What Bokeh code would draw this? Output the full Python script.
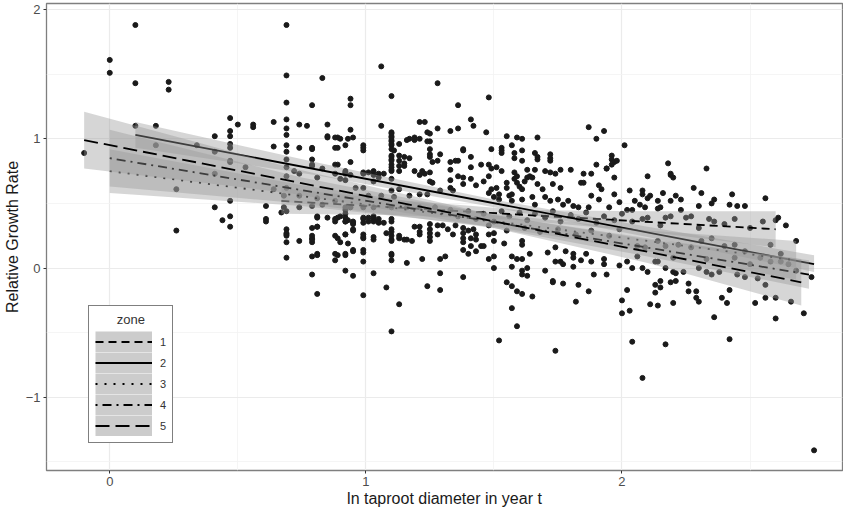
from bokeh.plotting import figure
from bokeh.models import Range1d, FixedTicker, Legend, LegendItem, ColumnDataSource
from bokeh.embed import file_html
from bokeh.resources import INLINE

# ---------------- data ----------------
# observed points: (ln taproot diameter in year t, relative growth rate)
pts_left = [(-0.10,0.89),(0.00,1.61),(0.00,1.51),(0.10,1.88),(0.10,1.43),(0.10,1.10),(0.18,1.10),(0.23,1.44),(0.23,1.38),
    (0.26,0.61),(0.26,0.29),(0.18,0.95),(0.41,1.02),(0.41,0.73),(0.41,0.47),(0.44,0.37),(0.47,1.16),(0.47,1.06),(0.47,1.02),
    (0.47,0.96),(0.47,0.93),(0.47,0.83),(0.47,0.52),(0.47,0.40),(0.47,0.32),(0.50,1.11),(0.56,1.11),(0.56,1.09),(0.53,0.78),
    (0.61,0.48),(0.61,0.38),(0.61,0.36),(0.64,1.13),(0.64,0.94),(0.67,0.43),(0.69,1.88),(0.69,1.49),(0.69,1.28),(0.69,1.15),
    (0.69,1.08),(0.69,1.03),(0.69,0.95),(0.69,0.90),(0.69,0.84),(0.69,0.78),(0.69,0.71),(0.69,0.62),(0.69,0.44),(0.69,0.30),
    (0.69,0.26),(0.69,0.20),(0.69,0.08),(0.74,1.11),(0.74,0.93),(0.74,0.73),(0.74,0.47),(0.74,0.21),(0.77,1.10),(0.79,1.26),
    (0.79,0.93),(0.79,0.84),(0.79,0.79),(0.79,0.48),(0.79,0.31),(0.79,0.23),(0.79,0.20),(0.79,0.09),(0.81,0.40),(0.81,0.32),
    (0.81,0.11),(0.83,1.47),(0.85,1.11),(0.85,1.02),(0.89,1.01),(0.93,1.00),(0.89,0.93),(0.89,0.80),(0.89,0.39),(0.93,0.37),
    (0.89,0.23),(0.89,0.10),(0.93,0.19),(0.92,0.95),(0.92,0.74),(0.92,0.68),(0.92,0.45),(0.92,0.42),(0.92,0.36),(0.92,0.26),
    (0.92,0.10),(0.94,1.31),(0.94,1.26),(0.94,1.07),(0.94,0.82),(0.95,1.01),(0.95,0.35),(0.95,0.29),(0.95,0.13),(0.99,0.95),
    (0.99,0.91),(0.99,0.74),(0.99,0.38),(0.99,0.35),(0.99,0.23),(0.99,0.12),(1.03,0.75),(1.05,0.73),(1.07,0.73),(1.03,0.38),
    (1.05,0.35),(1.07,0.35),(1.03,0.22),(1.06,1.56),(1.10,1.33),(1.10,1.05),(1.10,1.02),(1.10,0.99),(1.10,0.95),(1.10,0.92),
    (1.10,0.87),(1.10,0.84),(1.10,0.80),(1.10,0.76),(1.10,0.28),(1.10,0.22),(1.10,0.10),(1.06,1.10),(1.13,0.96),(1.15,0.86),
    (1.15,0.81),(1.15,0.79),(1.17,0.85),(1.17,1.00),(1.15,0.22),(1.18,0.21),(1.19,1.01),(1.22,0.75),(1.23,0.73),(1.21,0.32),
    (1.23,1.13),(1.25,1.04),(1.25,0.98),(0.41,0.90),(0.34,0.95),(0.47,0.82)]
pts_midleft = [(0.79,0.92),(0.79,0.80),(0.85,1.01),(0.88,1.01),(0.90,1.00),(0.88,0.93),(0.88,0.80),(0.92,0.73),(0.94,0.72),
    (0.99,0.93),(0.99,0.73),(1.01,0.74),(1.03,0.72),(1.05,0.70),(1.10,1.04),(1.10,1.01),(1.10,0.98),(1.10,0.96),(1.10,0.86),
    (1.10,0.83),(1.10,0.78),(1.10,0.75),(1.10,0.69),(1.11,0.91),(1.13,0.87),(1.13,0.83),(1.13,0.79),(1.13,0.75),(1.16,0.99),
    (1.19,0.99),(1.21,1.00),(1.21,1.13),(1.24,1.05),(1.24,0.98),(1.19,0.75),(1.21,0.72),(1.25,0.92),(1.25,0.88),(1.25,0.86),
    (1.26,0.82),(1.28,0.83),(1.29,0.88),(1.25,0.74),(1.25,0.67),(1.26,0.66),(1.28,1.43),(1.28,1.08),
    (0.81,0.39),(0.85,0.39),(0.88,0.38),(0.90,0.40),(0.92,0.39),(0.99,0.39),(1.01,0.39),(1.03,0.40),(1.05,0.38),(1.10,0.38),
    (0.81,0.70),(0.83,0.77),(0.88,0.73),(0.90,0.69),(0.92,0.75),(0.96,0.62),(0.99,0.62),(1.01,0.56),(1.03,0.67),(1.06,0.56),
    (1.10,0.60),(1.11,0.55),(1.13,0.61),(1.17,0.56),(1.21,0.57),(1.24,0.57),(1.29,0.60),(0.68,0.56),(0.74,0.56),(0.72,0.75),
    (0.68,0.47),(0.64,0.61),(0.92,0.47),(0.94,0.47),(0.99,0.47),(1.03,0.47),(1.10,0.47),(1.16,0.47),(1.21,0.47),(1.27,0.47),
    (0.81,0.54),(0.83,0.49),(0.88,0.52)]
pts_midlow = [(0.69,0.27),(0.69,0.25),(0.81,0.32),(0.79,0.25),(0.79,0.22),(0.81,0.10),(0.79,-0.05),(0.81,-0.20),(0.88,0.25),
    (0.92,0.26),(0.90,0.20),(0.88,0.11),(0.88,0.06),(0.92,0.11),(0.95,0.14),(0.92,-0.02),(0.95,-0.06),(0.95,0.34),(0.95,0.30),
    (0.99,0.26),(0.99,0.24),(1.03,0.24),(0.99,0.14),(0.99,0.05),(1.03,-0.04),(0.99,-0.21),(1.08,0.27),(1.10,0.30),(1.10,0.25),
    (1.10,0.21),(1.10,0.11),(1.10,0.06),(1.08,-0.15),(1.13,-0.28),(1.10,-0.49),(1.13,0.25),(1.13,0.23),(1.16,0.22),(1.16,0.04),
    (1.19,0.32),(1.21,0.28),(1.21,0.26),(1.22,0.07),(1.24,-0.14),(1.25,0.34),(1.25,0.30),(1.25,0.27),(1.25,0.24),(1.25,0.21),
    (1.28,0.33),(1.28,0.26),(1.30,0.33),(1.29,0.07),(1.31,0.09),(1.29,-0.04),(1.29,-0.17),(0.88,0.36),(0.92,0.36),(0.95,0.36),
    (1.01,0.36),(1.03,0.36),(1.05,0.36),(1.10,0.36)]
pts_center = [(1.36,1.26),(1.48,1.32),(1.33,1.06),(1.36,1.08),(1.41,1.15),(1.42,1.10),(1.47,1.05),(1.55,1.02),(1.59,1.01),
    (1.61,1.00),(1.67,1.01),(1.57,0.95),(1.49,0.92),(1.53,0.93),(1.53,0.91),(1.53,0.89),(1.58,0.89),(1.58,0.85),(1.61,0.91),
    (1.61,0.83),(1.66,0.89),(1.67,0.86),(1.67,0.84),(1.72,0.88),(1.72,0.85),(1.72,0.83),(1.87,1.09),(1.93,1.06),(1.90,1.00),
    (1.96,0.87),(1.96,0.84),(1.97,0.82),(1.98,0.83),(1.94,0.77),(2.01,0.95),(1.33,0.82),(1.35,0.83),(1.36,0.83),(1.33,0.76),
    (1.38,0.92),(1.38,0.91),(1.41,0.86),(1.41,0.78),(1.45,0.80),(1.48,0.80),(1.49,0.77),(1.51,0.78),(1.33,0.68),(1.36,0.71),
    (1.38,0.70),(1.38,0.65),(1.41,0.69),(1.43,0.64),(1.46,0.67),(1.48,0.71),(1.53,0.75),(1.33,0.62),(1.34,0.60),
    (1.49,0.61),(1.48,0.58),(1.51,0.62),(1.52,0.57),(1.55,0.66),(1.55,0.62),(1.57,0.57),(1.58,0.74),(1.58,0.69),(1.59,0.71),
    (1.59,0.66),(1.60,0.63),(1.61,0.61),(1.62,0.67),(1.63,0.70),(1.63,0.76),(1.64,0.71),(1.65,0.70),(1.66,0.76),(1.67,0.65),
    (1.69,0.61),(1.70,0.75),(1.72,0.74),(1.73,0.65),(1.74,0.73),(1.76,0.62),(1.76,0.76),(1.80,0.76),(1.84,0.66),(1.85,0.66),
    (1.85,0.73),(1.88,0.73),(1.88,0.56),(1.90,0.80),(1.91,0.64),(1.92,0.61),(1.94,0.77),(1.96,0.80),(1.97,0.70),
    (1.50,0.55),(1.52,0.53),(1.56,0.56),(1.57,0.52),(1.61,0.53),(1.65,0.55),(1.66,0.49),(1.70,0.55),(1.72,0.52),(1.75,0.53),
    (1.77,0.49),(1.79,0.52),(1.81,0.48),(1.83,0.47),(1.87,0.47),(1.91,0.53),(1.95,0.47),(1.97,0.57),(1.99,0.51)]
pts_centerlow = [(1.32,0.30),(1.34,0.26),(1.38,0.31),(1.38,0.27),(1.38,0.23),(1.38,0.20),(1.38,0.14),(1.40,0.29),(1.41,0.23),
    (1.41,0.17),(1.40,0.11),(1.43,0.26),(1.43,0.22),(1.43,0.13),(1.45,0.17),(1.46,0.17),(1.48,0.26),(1.48,0.07),(1.50,0.27),
    (1.50,0.21),(1.50,0.09),(1.50,0.00),(1.54,0.19),(1.38,-0.07),(1.57,0.09),(1.57,0.01),(1.59,0.07),(1.61,0.21),(1.61,0.18),
    (1.61,0.07),(1.61,-0.02),(1.61,-0.05),(1.63,0.00),(1.63,-0.06),(1.64,0.11),(1.55,-0.11),(1.57,-0.14),(1.59,-0.18),
    (1.61,-0.20),(1.65,-0.22),(1.57,-0.31),(1.59,-0.45),(1.52,-0.56),
    (1.70,-0.02),(1.71,0.12),(1.73,-0.11),(1.73,-0.10),(1.74,0.16),(1.74,0.05),(1.76,0.05),(1.77,0.03),(1.77,-0.12),(1.78,0.13),
    (1.81,0.08),(1.81,0.01),(1.81,0.11),(1.83,-0.13),(1.84,0.06),(1.86,0.11),(1.87,-0.18),(1.88,0.05),(1.89,-0.05),(1.93,0.07),
    (1.93,0.03),(1.94,-0.05),(1.99,0.02),(2.00,-0.25),(2.00,-0.35),(1.82,-0.26),(1.74,-0.64),
    (1.33,0.45),(1.36,0.40),(1.40,0.44),(1.43,0.38),(1.46,0.42),(1.50,0.36),(1.53,0.44),(1.56,0.40),(1.60,0.43),(1.63,0.37),
    (1.66,0.42),(1.70,0.39),(1.73,0.44),(1.76,0.36),(1.80,0.41),(1.83,0.38),(1.86,0.43),(1.90,0.35),(1.93,0.40),(1.97,0.37),
    (2.00,0.42),(1.35,0.33),(1.42,0.30),(1.48,0.33),(1.55,0.29),(1.62,0.31),(1.68,0.28),(1.75,0.30),(1.82,0.26),(1.88,0.29),
    (1.95,0.25),(1.99,0.30)]
pts_right = [(2.18,0.81),(2.19,0.72),(2.19,0.73),(2.20,0.70),(2.10,0.71),(2.33,0.77),(2.03,0.60),(2.08,0.60),(2.08,0.57),
    (2.10,0.54),(2.11,0.56),(2.16,0.58),(2.14,0.52),(2.19,0.52),(2.21,0.56),(2.23,0.53),(2.28,0.62),(2.31,0.58),(2.35,0.50),
    (2.36,0.53),(2.43,0.57),(2.42,0.49),(2.45,0.48),(2.48,0.48),(2.56,0.54),(2.61,0.39),(2.64,0.33),(2.05,0.52),(2.07,0.49),
    (2.09,0.47),(2.14,0.46),(2.15,0.47),(2.02,0.45),(2.04,0.45),(2.23,0.45),(2.30,0.48),
    (2.08,0.38),(2.10,0.39),(2.17,0.39),(2.19,0.40),(2.25,0.39),(2.27,0.40),(2.34,0.38),(2.36,0.36),(2.44,0.38),(2.55,0.36),
    (2.60,0.37),(2.50,0.31),(2.40,0.34),(2.30,0.31),(2.15,0.33),(2.04,0.36),(2.68,0.21)]
pts_rightlow = [(2.58,0.18),(2.62,0.11),(2.74,-0.07),(2.02,0.05),(2.04,0.00),(2.08,0.00),(2.10,-0.03),(2.13,0.05),(2.14,0.05),
    (2.17,0.00),(2.20,-0.03),(2.21,-0.04),(2.24,-0.03),(2.30,0.00),(2.33,-0.03),(2.35,-0.05),(2.38,-0.03),(2.45,-0.05),
    (2.48,-0.07),(2.53,-0.08),(2.56,-0.13),
    (2.02,-0.17),(2.13,-0.13),(2.15,-0.10),(2.15,-0.15),(2.19,-0.11),(2.21,-0.10),(2.13,-0.19),(2.26,-0.12),(2.26,-0.18),
    (2.29,-0.18),(2.29,-0.23),(2.30,-0.26),(2.42,-0.17),(2.39,-0.23),(2.41,-0.27),(2.52,-0.27),(2.56,-0.23),(2.60,-0.23),
    (2.66,-0.26),(2.11,-0.28),(2.14,-0.29),(2.20,-0.27),(2.03,-0.33),(2.36,-0.38),(2.60,-0.39),(2.71,-0.35),(2.04,-0.57),
    (2.17,-0.59),(2.42,-0.55),
    (2.06,0.17),(2.09,0.16),(2.14,0.21),(2.17,0.17),(2.22,0.18),(2.27,0.16),(2.31,0.21),(2.35,0.23),(2.40,0.17),(2.44,0.18),
    (2.48,0.13),(2.50,0.03),(2.54,0.08),(2.58,0.05),(2.62,0.05),(2.65,0.03),(2.68,-0.02),(2.06,0.09),(2.20,0.08),(2.33,0.07),
    (2.44,0.08),(2.08,-0.85),(2.75,-1.41)]

# per-zone regression fits (line end points) and confidence band (x, lower, upper)
zones = ["1", "2", "3", "4", "5"]
fit_x0 = [0.67, 0.10, 0.00, 0.00, -0.10]
fit_x1 = [2.60, 2.75, 2.68, 2.73, 2.70]
fit_y0 = [0.52, 1.03, 0.75, 0.85, 0.99]
fit_y1 = [0.30, 0.03, 0.06, -0.05, -0.11]
band_x = [[0.67, 1.10, 1.60, 2.10, 2.60],
          [0.10, 0.80, 1.50, 2.10, 2.75],
          [0.00, 0.75, 1.50, 2.10, 2.68],
          [0.00, 0.75, 1.50, 2.10, 2.73],
          [-0.10, 0.70, 1.50, 2.10, 2.70]]
band_lo = [[0.42, 0.41, 0.37, 0.28, 0.16],
           [0.93, 0.72, 0.47, 0.24, -0.03],
           [0.58, 0.48, 0.32, 0.13, -0.09],
           [0.63, 0.50, 0.31, 0.09, -0.16],
           [0.77, 0.58, 0.31, 0.04, -0.29]]
band_hi = [[0.62, 0.53, 0.45, 0.44, 0.44],
           [1.13, 0.82, 0.53, 0.32, 0.10],
           [0.92, 0.64, 0.42, 0.29, 0.21],
           [1.07, 0.70, 0.41, 0.23, 0.06],
           [1.21, 0.78, 0.41, 0.22, 0.07]]
zone_dash = ["8 5", "solid", "2 7", "2 5 9 5", "14 6"]

x_ticks = [0, 1, 2]
y_ticks = [-1, 0, 1, 2]

# ---------------- figure ----------------
FONT = "Liberation Sans"
p = figure(width=843, height=510, output_backend="svg", toolbar_location=None,
           x_range=Range1d(-0.247, 2.861), y_range=Range1d(-1.566, 2.0465),
           min_border_left=37, min_border_right=1, min_border_top=3, min_border_bottom=40,
           x_axis_label="ln taproot diameter in year t", y_axis_label="Relative Growth Rate")
p.background_fill_color = "white"
p.border_fill_color = "white"
p.outline_line_color = "#7f7f7f"
p.outline_line_width = 1.3

p.xaxis.ticker = FixedTicker(ticks=x_ticks, minor_ticks=[t + 0.5 for t in [-1] + x_ticks])
p.yaxis.ticker = FixedTicker(ticks=y_ticks, minor_ticks=[t + 0.5 for t in [-2] + y_ticks])
for g in (p.xgrid, p.ygrid):
    g.grid_line_color = "#ebebeb"
    g.grid_line_width = 1.2
    g.minor_grid_line_color = "#f2f2f2"
    g.minor_grid_line_width = 0.8
for ax in (p.xaxis, p.yaxis):
    ax.axis_line_color = None
    ax.major_tick_line_color = "#333333"
    ax.major_tick_out = 3
    ax.major_tick_in = 0
    ax.minor_tick_line_color = None
    ax.major_label_text_font = FONT
    ax.major_label_text_font_size = "13px"
    ax.major_label_text_color = "#4d4d4d"
    ax.major_label_standoff = 2
    ax.axis_label_text_font = FONT
    ax.axis_label_text_font_size = "16px"
    ax.axis_label_text_font_style = "normal"
    ax.axis_label_text_color = "#1a1a1a"
p.xaxis.axis_label_standoff = 1
p.yaxis.axis_label_standoff = 2

all_pts = pts_left + pts_midleft + pts_midlow + pts_center + pts_centerlow + pts_right + pts_rightlow
src = ColumnDataSource(dict(x=[a for a, b in all_pts], y=[b for a, b in all_pts]))
p.scatter("x", "y", source=src, size=5, fill_color="#1a1a1a", line_color="#1a1a1a")

# legend key background: an empty, thick grey line renderer (only drawn in the legend)
key_bg = p.line(x=[float("nan")], y=[float("nan")], line_color="#cccccc", line_width=21)

items = []
for i, z in enumerate(zones):
    band = p.varea(x=band_x[i], y1=band_lo[i], y2=band_hi[i], fill_color="#999999", fill_alpha=0.4)
    ln = p.line([fit_x0[i], fit_x1[i]], [fit_y0[i], fit_y1[i]], line_color="black",
                line_width=1.8, line_dash=zone_dash[i])
    items.append(LegendItem(label=z, renderers=[key_bg, ln]))

legend = Legend(items=items, location=(42, 27), title="\u00a0" * 6 + "zone",
                border_line_color="black", border_line_width=1.2,
                background_fill_color="white", background_fill_alpha=1.0,
                padding=6, spacing=0, margin=0, glyph_width=57, glyph_height=21,
                label_height=21, label_width=6, label_standoff=8,
                label_text_font=FONT, label_text_font_size="11px", label_text_color="#333333",
                title_text_font=FONT, title_text_font_size="13px", title_text_font_style="normal",
                title_text_color="#333333", title_standoff=4)
p.add_layout(legend, "center")

open("out.html", "w").write(file_html(p, INLINE))
